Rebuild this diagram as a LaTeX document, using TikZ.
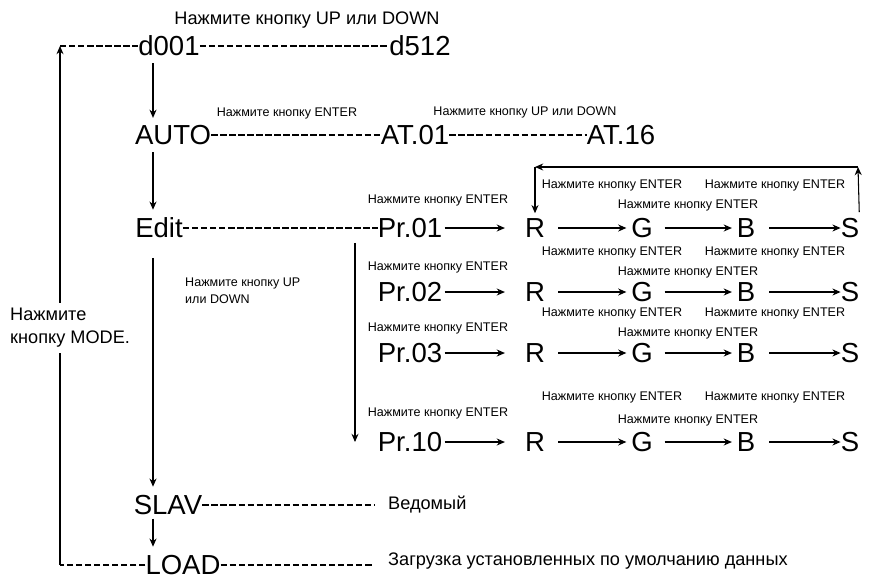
\documentclass[tikz,border=0pt]{standalone}
\usepackage{fontspec}
\setmainfont{Liberation Sans}
\usetikzlibrary{arrows.meta}

\tikzset{
  gros/.style={inner sep=0pt, font=\fontsize{23.5}{26}\selectfont, text height=16.8pt, text depth=0pt},
  moyen/.style={inner sep=0pt, font=\fontsize{15.5}{19.5}\selectfont},
  petit/.style={inner sep=0pt, font=\fontsize{10.7}{14.5}\selectfont},
  fleche/.style={-{Stealth[length=7pt,width=6pt]}, line width=0.9pt},
  tirets/.style={line width=0.9pt, dash pattern=on 5.5pt off 2.2pt},
}

\begin{document}
\begin{tikzpicture}[x=0.03cm, y=-0.03cm]
\useasboundingbox (0,0) rectangle (887,579);

% Noeuds
\node[moyen] (haut) at (307,20) {Нажмите кнопку UP или DOWN};
\node[gros] (d001) at (169,46) {d001};
\node[gros] (d512) at (420,46) {d512};

\node[gros] (auto) at (173,135) {AUTO};
\node[gros] (at01) at (415,135) {AT.01};
\node[gros] (at16) at (621,135) {AT.16};
\node[petit] (autoenter) at (287,113) {Нажмите кнопку ENTER};
\node[petit] (atupdown) at (525,112) {Нажмите кнопку UP или DOWN};

\node[gros] (edit) at (159,228) {Edit};
\node[petit, anchor=west, align=left] (editupdown) at (185,291) {Нажмите кнопку UP\\или DOWN};

% Ligne Pr.01
\node[gros] (p1) at (410,228) {Pr.01};
\node[gros] (r1) at (535,228) {R};
\node[gros] (g1) at (642,228) {G};
\node[gros] (b1) at (746,228) {B};
\node[gros] (s1) at (850,228) {S};
\node[petit] (e1p) at (438,200) {Нажмите кнопку ENTER};
\node[petit] (e1r) at (612,185) {Нажмите кнопку ENTER};
\node[petit] (e1g) at (688,205) {Нажмите кнопку ENTER};
\node[petit] (e1b) at (775,185) {Нажмите кнопку ENTER};

% Ligne Pr.02
\node[gros] (p2) at (410,292) {Pr.02};
\node[gros] (r2) at (535,292) {R};
\node[gros] (g2) at (642,292) {G};
\node[gros] (b2) at (746,292) {B};
\node[gros] (s2) at (850,292) {S};
\node[petit] (e2p) at (438,267) {Нажмите кнопку ENTER};
\node[petit] (e2r) at (612,252) {Нажмите кнопку ENTER};
\node[petit] (e2g) at (688,272) {Нажмите кнопку ENTER};
\node[petit] (e2b) at (775,252) {Нажмите кнопку ENTER};

% Ligne Pr.03
\node[gros] (p3) at (410,353) {Pr.03};
\node[gros] (r3) at (535,353) {R};
\node[gros] (g3) at (642,353) {G};
\node[gros] (b3) at (746,353) {B};
\node[gros] (s3) at (850,353) {S};
\node[petit] (e3p) at (438,328) {Нажмите кнопку ENTER};
\node[petit] (e3r) at (612,313) {Нажмите кнопку ENTER};
\node[petit] (e3g) at (688,333) {Нажмите кнопку ENTER};
\node[petit] (e3b) at (775,313) {Нажмите кнопку ENTER};

% Ligne Pr.10
\node[gros] (p10) at (410,442) {Pr.10};
\node[gros] (r10) at (535,442) {R};
\node[gros] (g10) at (642,442) {G};
\node[gros] (b10) at (746,442) {B};
\node[gros] (s10) at (850,442) {S};
\node[petit] (e10p) at (438,413) {Нажмите кнопку ENTER};
\node[petit] (e10r) at (612,397) {Нажмите кнопку ENTER};
\node[petit] (e10g) at (688,420) {Нажмите кнопку ENTER};
\node[petit] (e10b) at (775,397) {Нажмите кнопку ENTER};

\node[gros] (slav) at (168,505) {SLAV};
\node[moyen, anchor=west] (ved) at (388,505) {Ведомый};
\node[gros] (load) at (183,565) {LOAD};
\node[moyen, anchor=west] (zag) at (388,561) {Загрузка установленных по умолчанию данных};

\coordinate (axe) at (153,0);
\coordinate (axe2) at (355,0);
\coordinate (coinH) at (60,46);
\coordinate (coinB) at (60,565);
\coordinate (boucleG) at (535,167);
\coordinate (boucleD) at (858,167);

% Arêtes
\draw[tirets] (d001) -- (d512);
\draw[tirets] (auto) -- (at01);
\draw[tirets] (at01) -- (at16);
\draw[tirets] (edit) -- (p1);
\draw[tirets, shorten >=12pt] (slav.east) -- (slav.east -| ved.west);
\draw[tirets, shorten >=12pt] (load.east) -- (load.east -| zag.west);

\draw[fleche, shorten <=6pt, shorten >=6pt] (d001.south -| axe) -- (auto.north -| axe);
\draw[fleche, shorten <=6pt, shorten >=7pt] (auto.south -| axe) -- (edit.north -| axe);
\draw[fleche, shorten <=17pt, shorten >=7pt] (edit.south -| axe) -- (slav.north -| axe);
\draw[fleche, shorten <=3pt, shorten >=7pt] (slav.south -| axe) -- (load.north -| axe);
\draw[fleche, shorten <=4pt] (axe2 |- edit.south) -- (axe2 |- p10.west);

\draw[tirets] (load.west) -- (coinB);
\draw[fleche] (coinB) -- (coinH);
\draw[tirets] (coinH) -- (d001.west);

\draw[fleche, shorten <=2pt, shorten >=17pt] (p1) -- (r1);
\draw[fleche, shorten <=11pt, shorten >=4pt] (r1) -- (g1);
\draw[fleche, shorten <=10pt, shorten >=4pt] (g1) -- (b1);
\draw[fleche, shorten <=12pt] (b1) -- (s1);
\draw[fleche, shorten <=2pt, shorten >=17pt] (p2) -- (r2);
\draw[fleche, shorten <=11pt, shorten >=4pt] (r2) -- (g2);
\draw[fleche, shorten <=10pt, shorten >=4pt] (g2) -- (b2);
\draw[fleche, shorten <=12pt] (b2) -- (s2);
\draw[fleche, shorten <=2pt, shorten >=17pt] (p3) -- (r3);
\draw[fleche, shorten <=11pt, shorten >=4pt] (r3) -- (g3);
\draw[fleche, shorten <=10pt, shorten >=4pt] (g3) -- (b3);
\draw[fleche, shorten <=12pt] (b3) -- (s3);
\draw[fleche, shorten <=2pt, shorten >=17pt] (p10) -- (r10);
\draw[fleche, shorten <=11pt, shorten >=4pt] (r10) -- (g10);
\draw[fleche, shorten <=10pt, shorten >=4pt] (g10) -- (b10);
\draw[fleche, shorten <=12pt] (b10) -- (s10);

\draw[fleche, shorten <=5pt] (s1.north east) -- (boucleD);
\draw[fleche] (boucleD) -- (boucleG);
\draw[fleche, shorten >=4pt] (boucleG) -- (r1.north);

\node[moyen, anchor=west, align=left, fill=white, inner ysep=5pt] (mode) at (10,328) {Нажмите\\кнопку MODE.};

\end{tikzpicture}
\end{document}
